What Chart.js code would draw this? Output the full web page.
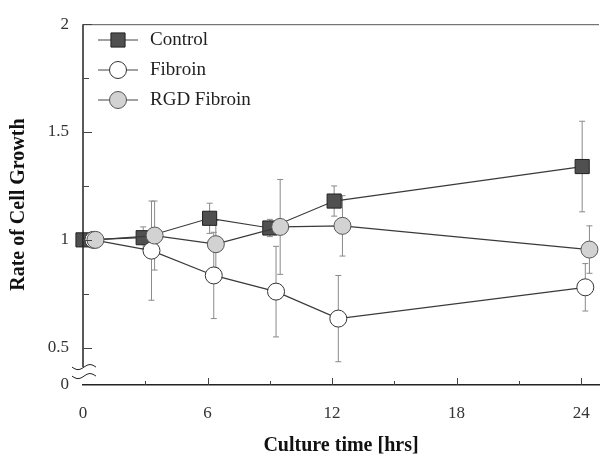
<!DOCTYPE html>
<html>
<head>
<meta charset="utf-8">
<script src="https://cdn.jsdelivr.net/npm/chart.js@4.4.1/dist/chart.umd.min.js"></script>
<style>
  body { margin: 0; background: #fff; }
  canvas { display: block; }
</style>
</head>
<body>
<canvas id="growthChart" width="610" height="459"></canvas>
<script>
const seriesNames = ['Control', 'Fibroin', 'RGD Fibroin'];

// culture time (hrs), rate and SD
const controlHours = [0, 2.9, 6.1, 9.0, 12.1, 24.05];
const controlRate = [1.0, 1.01, 1.10, 1.055, 1.18, 1.34];
const controlErr = [0, 0.05, 0.07, 0.04, 0.07, 0.21];

const fibroinHours = [0.5, 3.3, 6.3, 9.3, 12.3, 24.2];
const fibroinRate = [1.0, 0.95, 0.835, 0.76, 0.635, 0.78];
const fibroinErr = [0, 0.23, 0.2, 0.21, 0.2, 0.11];

const rgdHours = [0.6, 3.45, 6.4, 9.5, 12.5, 24.4];
const rgdRate = [1.0, 1.02, 0.98, 1.06, 1.065, 0.955];
const rgdErr = [0, 0.16, 0.11, 0.22, 0.14, 0.11];

const xTickValues = [0, 3, 6, 9, 12, 15, 18, 21, 24];
const xTickLabels = ['0', '', '6', '', '12', '', '18', '', '24'];
// y axis is broken: bottom tick stands for 0
const yTickValues = [0.327, 0.5, 0.75, 1, 1.25, 1.5, 1.75, 2];
const yTickLabels = ['0', '0.5', '', '1', '', '1.5', '', '2'];

const serif = 'Liberation Serif';

function toPoints(xs, ys) {
  return xs.map((x, i) => ({ x: x, y: ys[i] }));
}

const errors = [controlErr, fibroinErr, rgdErr];

const styles = [
  { style: 'rect', r: 10, fill: '#505050', stroke: '#222' },
  { style: 'circle', r: 8.5, fill: '#ffffff', stroke: '#333' },
  { style: 'circle', r: 8.5, fill: '#d2d2d2', stroke: '#555' },
];

function drawMarker(ctx, s, x, y) {
  ctx.save();
  ctx.fillStyle = s.fill;
  ctx.strokeStyle = s.stroke;
  ctx.lineWidth = 1;
  ctx.beginPath();
  if (s.style === 'rect') {
    const h = Math.SQRT1_2 * s.r;
    ctx.rect(x - h, y - h, 2 * h, 2 * h);
  } else {
    ctx.arc(x, y, s.r, 0, Math.PI * 2);
  }
  ctx.fill();
  ctx.stroke();
  ctx.restore();
}

const framePlugin = {
  id: 'frame',
  beforeDatasetsDraw(chart) {
    const ctx = chart.ctx;
    const xs = chart.scales.x, ys = chart.scales.y;
    ctx.save();
    ctx.strokeStyle = '#8a8a8a';
    ctx.lineWidth = 1;
    chart.data.datasets.forEach((ds, d) => {
      ds.data.forEach((p, i) => {
        const e = errors[d][i];
        if (!e) return;
        const px = xs.getPixelForValue(p.x);
        const top = ys.getPixelForValue(p.y + e);
        const bot = ys.getPixelForValue(p.y - e);
        ctx.beginPath();
        ctx.moveTo(px, top); ctx.lineTo(px, bot);
        ctx.moveTo(px - 3, top); ctx.lineTo(px + 3, top);
        ctx.moveTo(px - 3, bot); ctx.lineTo(px + 3, bot);
        ctx.stroke();
      });
    });
    ctx.restore();
  },
  afterDraw(chart) {
    const ctx = chart.ctx;
    const a = chart.chartArea;
    const xs = chart.scales.x, ys = chart.scales.y;
    ctx.save();

    // top frame line
    ctx.strokeStyle = '#555';
    ctx.lineWidth = 1;
    ctx.beginPath();
    ctx.moveTo(a.left, a.top + 0.5);
    ctx.lineTo(a.right, a.top + 0.5);
    ctx.stroke();

    // left axis down to the break
    const breakY = ys.getPixelForValue(0.41);
    ctx.strokeStyle = '#222';
    ctx.lineWidth = 1.5;
    ctx.beginPath();
    ctx.moveTo(a.left, a.top);
    ctx.lineTo(a.left, breakY);
    ctx.stroke();

    // break marks
    ctx.lineWidth = 1;
    [breakY, breakY + 9].forEach(by => {
      ctx.beginPath();
      for (let t = 0; t <= 24; t++) {
        const px = a.left - 11 + t;
        const py = by + 2.5 * Math.sin((t / 24) * Math.PI * 2);
        if (t === 0) ctx.moveTo(px, py); else ctx.lineTo(px, py);
      }
      ctx.stroke();
    });

    // inward ticks
    ctx.lineWidth = 1;
    ctx.strokeStyle = '#444';
    xTickValues.forEach((v, i) => {
      if (v === 0) return;
      const px = Math.round(xs.getPixelForValue(v)) + 0.5;
      const len = xTickLabels[i] ? 7 : 4;
      ctx.beginPath();
      ctx.moveTo(px, a.bottom);
      ctx.lineTo(px, a.bottom - len);
      ctx.stroke();
    });
    yTickValues.forEach((v, i) => {
      if (i === 0) return;
      const py = Math.round(ys.getPixelForValue(v)) + 0.5;
      const len = yTickLabels[i] ? 9 : 6;
      ctx.beginPath();
      ctx.moveTo(a.left, py);
      ctx.lineTo(a.left + len, py);
      ctx.stroke();
    });

    // legend in the top-left corner
    seriesNames.forEach((name, i) => {
      const ly = 40 + i * 30;
      ctx.strokeStyle = '#444';
      ctx.lineWidth = 1;
      ctx.beginPath();
      ctx.moveTo(98, ly);
      ctx.lineTo(138, ly);
      ctx.stroke();
      drawMarker(ctx, styles[i], 118, ly);
      ctx.fillStyle = '#222';
      ctx.font = '19px "' + serif + '"';
      ctx.textBaseline = 'middle';
      ctx.textAlign = 'left';
      ctx.fillText(name, 150, ly);
    });
    ctx.restore();
  },
};

const datasets = [
  { label: seriesNames[0], data: toPoints(controlHours, controlRate), order: 2 },
  { label: seriesNames[1], data: toPoints(fibroinHours, fibroinRate), order: 1 },
  { label: seriesNames[2], data: toPoints(rgdHours, rgdRate), order: 0 },
].map((ds, i) => Object.assign(ds, {
  borderColor: '#3a3a3a',
  borderWidth: 1.2,
  tension: 0,
  clip: false,
  pointStyle: styles[i].style,
  pointRadius: styles[i].r,
  pointBackgroundColor: styles[i].fill,
  pointBorderColor: styles[i].stroke,
  pointBorderWidth: 1,
  pointHoverRadius: styles[i].r,
}));

const config = {
  type: 'line',
  data: { datasets },
  options: {
    responsive: false,
    animation: false,
    layout: { padding: { top: 17, right: 0, bottom: 0, left: 0 } },
    plugins: {
      legend: { display: false },
      tooltip: { enabled: false },
    },
    scales: {
      x: {
        type: 'linear',
        min: 0,
        max: 24.86,
        afterBuildTicks: s => { s.ticks = xTickValues.map(v => ({ value: v })); },
        afterFit: s => { s.height = 74; },
        grid: { display: false, drawTicks: false },
        border: { display: true, color: '#222', width: 1.5 },
        ticks: {
          autoSkip: false,
          maxRotation: 0,
          padding: 18,
          color: '#333',
          font: { family: serif, size: 17 },
          callback: (v, i) => xTickLabels[i],
        },
        title: {
          display: true,
          text: 'Culture time [hrs]',
          color: '#111',
          font: { family: serif, size: 20, weight: 'bold' },
          padding: { top: 0, bottom: 1 },
        },
      },
      y: {
        type: 'linear',
        min: 0.327,
        max: 2,
        afterBuildTicks: s => { s.ticks = yTickValues.map(v => ({ value: v })); },
        afterFit: s => { s.width = 83; },
        grid: { display: false, drawTicks: false },
        border: { display: false },
        ticks: {
          autoSkip: false,
          padding: 14,
          color: '#333',
          font: { family: serif, size: 17 },
          callback: (v, i) => yTickLabels[i],
        },
        title: {
          display: true,
          text: 'Rate of Cell Growth',
          color: '#111',
          font: { family: serif, size: 20, weight: 'bold' },
          padding: { top: 7, bottom: 0 },
        },
      },
    },
  },
  plugins: [framePlugin],
};

const growthChart = new Chart(document.getElementById('growthChart'), config);
</script>
</body>
</html>
